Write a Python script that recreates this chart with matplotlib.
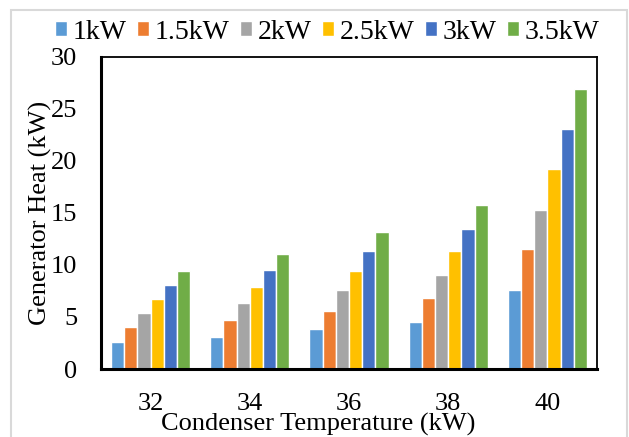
import numpy as np
import matplotlib.pyplot as plt
from matplotlib.patches import Rectangle

plt.rcParams['font.family'] = ['Liberation Serif', 'DejaVu Serif']

temps = ['32', '34', '36', '38', '40']
series = ['1kW', '1.5kW', '2kW', '2.5kW', '3kW', '3.5kW']
heat_1 = [2.6, 3.1, 3.8, 4.5, 7.6]
heat_15 = [4.0, 4.7, 5.6, 6.8, 11.5]
heat_2 = [5.35, 6.35, 7.55, 9.0, 15.3]
heat_25 = [6.7, 7.9, 9.45, 11.3, 19.2]
heat_3 = [8.05, 9.5, 11.3, 13.5, 23.1]
heat_35 = [9.4, 11.1, 13.2, 15.8, 26.9]
colors = ['#5B9BD5', '#ED7D31', '#A5A5A5', '#FFC000', '#4472C4', '#70AD47']

data = [heat_1, heat_15, heat_2, heat_25, heat_3, heat_35]

fig = plt.figure(figsize=(6.29, 4.37), dpi=100)
ax = fig.add_axes([0.1606, 0.1556, 0.9491 - 0.1606, 0.8696 - 0.1556])

x = np.arange(len(temps))
pitch = 0.133
for i, (vals, c) in enumerate(zip(data, colors)):
    ax.bar(x + (i - 2.5) * pitch, vals, width=pitch, color=c,
           edgecolor='white', linewidth=1.0, label=series[i], zorder=2)

ax.set_xlim(-0.5, len(temps) - 0.5)
ax.set_ylim(0, 30)
ax.set_yticks([0, 5, 10, 15, 20, 25, 30])
ax.set_xticks(x)
ax.set_xticklabels(temps)
ax.tick_params(length=0, labelsize=19)
ax.tick_params(axis='y', pad=17)
ax.tick_params(axis='x', pad=17)
for s in ax.spines.values():
    s.set_linewidth(1.3)
    s.set_color('black')
ax.spines['left'].set_linewidth(2.2)
ax.spines['bottom'].set_linewidth(2.2)

ax.set_ylabel('Generator Heat (kW)', fontsize=19, va='center')
ax.yaxis.set_label_coords(-0.123, 0.5)
ax.set_xlabel('Condenser Temperature (kW)', fontsize=19, va='center')
ax.xaxis.set_label_coords(0.4375, -0.178)

ax.legend(loc='lower center', bbox_to_anchor=(0.456, 1.04), ncol=6, frameon=False,
          fontsize=20, handlelength=0.46, handleheight=0.46, handletextpad=0.2,
          columnspacing=0.35, borderaxespad=0.0, borderpad=0.0)

fig.patches.append(Rectangle((11 / 629, -0.05), 616 / 629, 1.05 - 10 / 437,
                             transform=fig.transFigure, fill=False,
                             edgecolor='#D9D9D9', linewidth=1.5))

fig.savefig('out.png', dpi=100)
